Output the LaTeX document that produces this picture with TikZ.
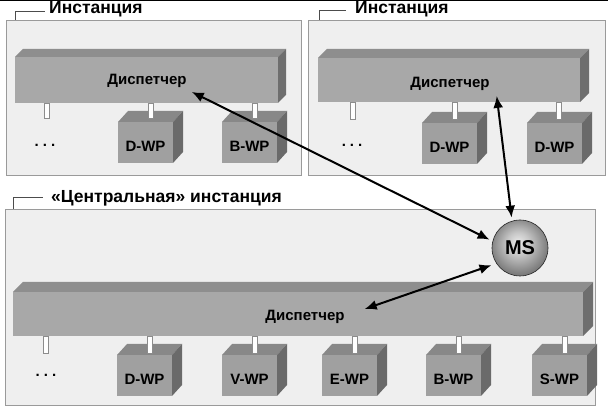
\documentclass[tikz,border=0pt]{standalone}
\usepackage{fontspec}
\setmainfont{Liberation Sans}
\usetikzlibrary{arrows.meta}
\definecolor{boxbg}{HTML}{EFEFEF}
\definecolor{boxline}{HTML}{9A9A9A}
\definecolor{barfront}{HTML}{A8A8A8}
\definecolor{bartop}{HTML}{8E8E8E}
\definecolor{barside}{HTML}{6E6E6E}
\definecolor{wpfront}{HTML}{A0A0A0}
\definecolor{wptop}{HTML}{888888}
\definecolor{wpside}{HTML}{6A6A6A}
\pgfdeclareradialshading{msball}{\pgfpoint{-2bp}{5bp}}{%
  color(0bp)=(black!8); color(10bp)=(black!22); color(25bp)=(black!50);
  color(40bp)=(black!72); color(50bp)=(black!88)}
\newcommand{\dispbar}[5]{%
  \fill[bartop] (#1,#2) -- ++(#5,-#5) -- (#3+#5,#2-#5) -- (#3,#2) -- cycle;
  \fill[barside] (#3,#2) -- (#3+#5,#2-#5) -- (#3+#5,#4-#5) -- (#3,#4) -- cycle;
  \fill[barfront] (#1,#2) rectangle (#3,#4);}
\newcommand{\wpbox}[4]{%
  \fill[wptop] (#2,#3) -- ++(10,-11) -- ++(55,0) -- ++(-10,11) -- cycle;
  \fill[wpside] (#2+55,#3) -- ++(10,-11) -- ++(0,41) -- ++(-10,11) -- cycle;
  \node[wpstyle, anchor=north west] (#1) at (#2,#3) {};
  \node[txt] (#1l) at (#2+27.5,#3+24) {#4};}
\newcommand{\pipe}[3]{%
  \draw[pipestyle] (#1-2.5,#2) rectangle (#1+2.5,#3);}
\tikzset{
  txt/.style={font=\bfseries\fontsize{15}{17}\selectfont, inner sep=0pt},
  lbl/.style={font=\bfseries\fontsize{17.5}{19}\selectfont, inner sep=0pt, anchor=base west},
  inst/.style={fill=boxbg, draw=boxline, line width=0.8pt},
  brk/.style={draw=black!70, line width=0.6pt},
  wpstyle/.style={fill=wpfront, minimum width=55pt, minimum height=41pt, inner sep=0pt, draw=none},
  pipestyle/.style={fill=white, draw=black!45, line width=0.6pt},
  conn/.style={line width=2pt, {Latex[length=12pt,width=10pt]}-{Latex[length=12pt,width=10pt]}},
  dots/.style={font=\bfseries\fontsize{15}{17}\selectfont, inner sep=0pt, anchor=base}
}
\begin{document}
\begin{tikzpicture}[x=1pt,y=-1pt]
\useasboundingbox (0,0) rectangle (608,411);
\fill[white] (0,0) rectangle (608,411);
\draw[line width=1.2pt] (0,0.6) -- (608,0.6);

% instance boxes
\draw[inst] (6,20) rectangle (301,175);
\draw[inst] (308,20) rectangle (605,175);
\draw[inst] (5,209) rectangle (595,405);

% brackets and labels
\draw[brk] (15,20) -- (15,11) -- (45,11);
\node[lbl] (l1) at (49,14) {Инстанция};
\draw[brk] (319,20) -- (319,10) -- (346,10);
\node[lbl] (l2) at (355,14) {Инстанция};
\draw[brk] (13,209) -- (13,197) -- (43,197);
\node[lbl] (l3) at (51,203) {«Центральная» инстанция};

% instance 1
\dispbar{15}{57}{278}{103}{8}
\node[txt] (d1) at (147,81) {Диспетчер};
\wpbox{w11}{118}{122}{D-WP}
\wpbox{w12}{222}{122}{B-WP}
\pipe{47}{103}{118}
\pipe{151}{103}{118}
\pipe{255}{103}{118}
\node[dots] (p1) at (45,147) {.\hspace{4pt}.\hspace{4pt}.};

% instance 2
\dispbar{318}{58}{580}{102}{9}
\node[txt] (d2) at (450,84) {Диспетчер};
\wpbox{w21}{422}{123}{D-WP}
\wpbox{w22}{527}{123}{D-WP}
\pipe{353}{102}{119}
\pipe{455}{102}{119}
\pipe{559}{102}{119}
\node[dots] (p2) at (352,147) {.\hspace{4pt}.\hspace{4pt}.};

% central instance
\dispbar{13}{292}{583}{336}{10}
\node[txt] (d3) at (305,317) {Диспетчер};
\wpbox{w31}{117}{355}{D-WP}
\wpbox{w32}{222}{355}{V-WP}
\wpbox{w33}{322}{355}{E-WP}
\wpbox{w34}{426}{355}{B-WP}
\wpbox{w35}{532}{355}{S-WP}
\pipe{46}{336}{353}
\pipe{150}{336}{353}
\pipe{255}{336}{353}
\pipe{355}{336}{353}
\pipe{459}{336}{353}
\pipe{565}{336}{353}
\node[dots] (p3) at (46,377) {.\hspace{4pt}.\hspace{4pt}.};

% message server
\node[circle, minimum size=56pt, inner sep=0pt, shading=msball, draw=black!85, line width=0.6pt,
      font=\bfseries\fontsize{20}{22}\selectfont] (ms) at (520,248) {MS};

% connectors
\draw[conn] ([shift={(5pt,-4pt)}]d1.south east) -- ([shift={(-3pt,1pt)}]ms.165);
\draw[conn] ([shift={(7pt,-5pt)}]d2.south east) -- ([shift={(-1pt,3pt)}]ms.105);
\draw[conn] ([shift={(20pt,8pt)}]d3.east) -- ([shift={(-4pt,-3pt)}]ms.210);
\end{tikzpicture}
\end{document}
